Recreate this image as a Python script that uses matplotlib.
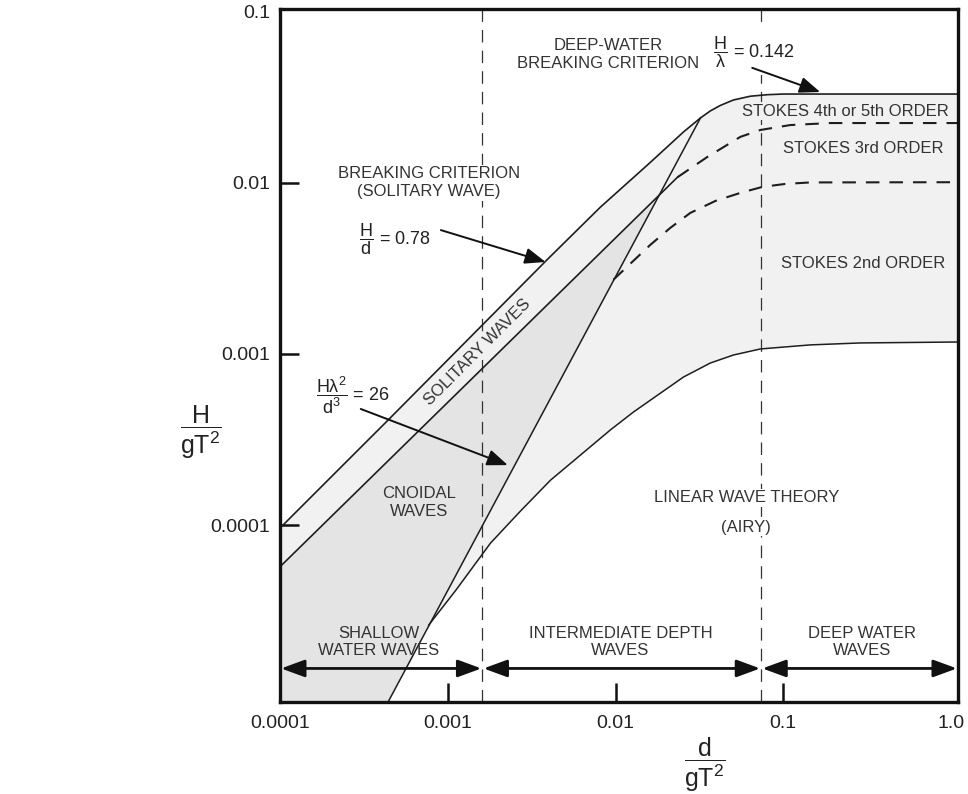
import numpy as np
import matplotlib
matplotlib.use("Agg")
import matplotlib.pyplot as plt
from matplotlib.ticker import NullLocator

plt.rcParams['font.family'] = ['Liberation Sans', 'DejaVu Sans']
plt.rcParams['mathtext.fontset'] = 'custom'
plt.rcParams['mathtext.rm'] = 'Liberation Sans'
plt.rcParams['mathtext.it'] = 'Liberation Sans:italic'
plt.rcParams['mathtext.bf'] = 'Liberation Sans:bold'

# ---------------- data ----------------
x_limits = (1e-4, 1.1)
y_limits = (9.23e-6, 0.104)

# breaking criterion (H/d = 0.78 -> H/L = 0.142)
breaking_x = [1.0e-4, 4.4e-4, 3.9e-3, 8.1e-3, 1.6e-2, 2.54e-2, 3.21e-2, 3.67e-2, 4.21e-2,
              5.04e-2, 6.36e-2, 8.03e-2, 0.1, 1.1]
breaking_y = [9.6e-5, 4.1e-4, 3.55e-3, 7.2e-3, 1.31e-2, 1.986e-2, 2.40e-2, 2.636e-2, 2.838e-2,
              3.055e-2, 3.214e-2, 3.281e-2, 3.31e-2, 3.31e-2]

# lower limit of solitary-wave band
solitary_x = [1.0e-4, 2.34e-2]
solitary_y = [5.7e-5, 1.08e-2]

# Ursell limit H L^2 / d^3 = 26
ursell_x = [4.4e-4, 3.21e-2]
ursell_y = [9.2e-6, 2.40e-2]

# linear / Stokes 2nd order limit
linear_x = [7.7e-4, 1.12e-3, 1.80e-3, 2.72e-3, 4.10e-3, 9.33e-3, 1.28e-2, 2.54e-2, 3.67e-2,
            5.04e-2, 7.3e-2, 0.145, 0.287, 1.1]
linear_y = [2.60e-5, 4.17e-5, 7.85e-5, 1.21e-4, 1.83e-4, 3.6e-4, 4.58e-4, 7.33e-4, 8.85e-4,
            9.86e-4, 1.07e-3, 1.13e-3, 1.16e-3, 1.175e-3]

# Stokes 2nd / 3rd order limit (dashed)
stokes3_x = [9.72e-3, 1.61e-2, 2.12e-2, 2.79e-2, 3.94e-2, 5.55e-2, 7.5e-2, 0.1028, 0.145, 1.1]
stokes3_y = [2.72e-3, 4.34e-3, 5.46e-3, 6.68e-3, 7.85e-3, 8.75e-3, 9.48e-3, 9.87e-3, 1.007e-2, 1.01e-2]

# Stokes 3rd / 4th order limit (dashed)
stokes4_x = [2.34e-2, 3.53e-2, 5.55e-2, 7.3e-2, 0.110, 0.19, 1.1]
stokes4_y = [1.08e-2, 1.42e-2, 1.86e-2, 2.04e-2, 2.18e-2, 2.24e-2, 2.24e-2]

shallow_limit = 0.00161
deep_limit = 0.0739

xtick_vals = [1e-4, 1e-3, 1e-2, 1e-1, 1.0]
xtick_labels = ['0.0001', '0.001', '0.01', '0.1', '1.0']
ytick_vals = [1e-4, 1e-3, 1e-2, 1e-1]
ytick_labels = ['0.0001', '0.001', '0.01', '0.1']

# ---------------- figure ----------------
W, H = 968, 794
fig = plt.figure(figsize=(W / 100, H / 100), dpi=100)
ax = fig.add_axes([280 / W, (H - 702) / H, (958 - 280) / W, (702 - 9) / H])
ax.set_xscale('log')
ax.set_yscale('log')
ax.set_xlim(*x_limits)
ax.set_ylim(*y_limits)

LIGHT = '#f1f1f1'
DARK = '#e4e4e4'
LINE = '#1e1e1e'
TXT = '#333333'

# light region: below breaking curve, above linear limit / left of Ursell
poly_x = breaking_x + linear_x[::-1] + [ursell_x[0], x_limits[0]]
poly_y = breaking_y + linear_y[::-1] + [ursell_y[0], y_limits[0]]
ax.fill(poly_x, poly_y, color=LIGHT, lw=0, zorder=1)

# cnoidal region: below solitary line, left of Ursell line (intersection in log space)
lsx, lsy = np.log10(solitary_x), np.log10(solitary_y)
lux, luy = np.log10(ursell_x), np.log10(ursell_y)
ms = (lsy[1] - lsy[0]) / (lsx[1] - lsx[0])
mu = (luy[1] - luy[0]) / (lux[1] - lux[0])
xi = (luy[0] - lsy[0] + ms * lsx[0] - mu * lux[0]) / (ms - mu)
yi = lsy[0] + ms * (xi - lsx[0])
cn_x = [x_limits[0], solitary_x[0], 10 ** xi, ursell_x[0]]
cn_y = [y_limits[0], solitary_y[0], 10 ** yi, ursell_y[0]]
ax.fill(cn_x, cn_y, color=DARK, lw=0, zorder=1.1)

# vertical depth limits
for xv in (shallow_limit, deep_limit):
    ax.axvline(xv, color='#333333', lw=0.9, dashes=(10, 6.5), zorder=2)

# curves
ax.plot(breaking_x, breaking_y, color=LINE, lw=1.2, zorder=3)
ax.plot(solitary_x, solitary_y, color=LINE, lw=1.2, zorder=3)
ax.plot(ursell_x, ursell_y, color=LINE, lw=1.1, zorder=3)
ax.plot(linear_x, linear_y, color=LINE, lw=1.1, zorder=3)
ax.plot(stokes3_x, stokes3_y, color=LINE, lw=1.5, dashes=(6.5, 4.8), zorder=3)
ax.plot(stokes4_x, stokes4_y, color=LINE, lw=1.5, dashes=(6.5, 4.8), zorder=3)

# ---------------- axes styling ----------------
for sp in ax.spines.values():
    sp.set_linewidth(2.4)
    sp.set_color('#111111')
    sp.set_zorder(6)

ax.xaxis.set_minor_locator(NullLocator())
ax.yaxis.set_minor_locator(NullLocator())
ax.set_xticks(xtick_vals[1:-1], xtick_labels[1:-1])
ax.set_xticks([xtick_vals[0], xtick_vals[-1]], [xtick_labels[0], xtick_labels[-1]], minor=True)
ax.set_yticks(ytick_vals[:-1], ytick_labels[:-1])
ax.set_yticks([ytick_vals[-1]], [ytick_labels[-1]], minor=True)
ax.tick_params(axis='both', which='major', direction='in', length=14, width=1.8,
               labelsize=14, colors='#111111', labelcolor='#222222')
ax.tick_params(axis='both', which='minor', direction='in', length=0,
               labelsize=14, labelcolor='#222222')
ax.tick_params(axis='x', which='both', pad=9)
ax.tick_params(axis='y', which='both', pad=7)

# axis labels as fractions
fig.text(201 / W, 1 - 432 / H, r'$\dfrac{\mathrm{H}}{\mathrm{gT^2}}$', fontsize=18,
         ha='center', va='center', color='#222222')
fig.text(705 / W, 1 - 765 / H, r'$\dfrac{\mathrm{d}}{\mathrm{gT^2}}$', fontsize=18,
         ha='center', va='center', color='#222222')

# ---------------- region labels ----------------
fs = 12
ax.text(7.7e-4, 1.0e-2, 'BREAKING CRITERION\n(SOLITARY WAVE)', fontsize=fs, color=TXT,
        ha='center', va='center', linespacing=1.25, zorder=5,
        bbox=dict(facecolor='white', edgecolor='none', pad=1))
ax.text(9.08e-3, 0.0561, 'DEEP-WATER\nBREAKING CRITERION', fontsize=fs, color=TXT,
        ha='center', va='center', linespacing=1.25, zorder=5)
ax.text(0.234, 0.0263, 'STOKES 4th or 5th ORDER', fontsize=fs, color=TXT,
        ha='center', va='center', zorder=5,
        bbox=dict(facecolor=LIGHT, edgecolor='none', pad=1))
ax.text(0.299, 0.0160, 'STOKES 3rd ORDER', fontsize=fs, color=TXT, ha='center', va='center', zorder=5)
ax.text(0.299, 0.0034, 'STOKES 2nd ORDER', fontsize=fs, color=TXT, ha='center', va='center', zorder=5)
ax.text(6.7e-4, 1.35e-4, 'CNOIDAL\nWAVES', fontsize=fs, color=TXT, ha='center', va='center',
        linespacing=1.25, zorder=5)
ax.text(0.0603, 1.44e-4, 'LINEAR WAVE THEORY', fontsize=fs, color=TXT, ha='center', va='center',
        zorder=5, bbox=dict(facecolor='white', edgecolor='none', pad=1))
ax.text(0.0603, 9.7e-5, '(AIRY)', fontsize=fs, color=TXT, ha='center', va='center',
        zorder=5, bbox=dict(facecolor='white', edgecolor='none', pad=1))
ax.text(1.51e-3, 1.03e-3, 'SOLITARY WAVES', fontsize=fs, color=TXT, ha='center', va='center',
        rotation=45, rotation_mode='anchor', zorder=5,
        bbox=dict(facecolor=LIGHT, edgecolor='none', pad=0.5))

ax.text(3.88e-4, 2.07e-5, 'SHALLOW\nWATER WAVES', fontsize=fs, color=TXT, ha='center',
        va='center', linespacing=1.2, zorder=5)
ax.text(0.0107, 2.07e-5, 'INTERMEDIATE DEPTH\nWAVES', fontsize=fs, color=TXT, ha='center',
        va='center', linespacing=1.2, zorder=5)
ax.text(0.295, 2.07e-5, 'DEEP WATER\nWAVES', fontsize=fs, color=TXT, ha='center',
        va='center', linespacing=1.2, zorder=5)

# fraction annotations
ax.text(2.95e-4, 4.71e-3, r'$\dfrac{\mathrm{H}}{\mathrm{d}}$ = 0.78', fontsize=13,
        color='#222222', ha='left', va='center', zorder=5)
ax.text(1.64e-4, 5.75e-4, r'$\dfrac{\mathrm{H\lambda^2}}{\mathrm{d^3}}$ = 26', fontsize=13,
        color='#222222', ha='left', va='center', zorder=5)
ax.text(0.0383, 0.0583, r'$\dfrac{\mathrm{H}}{\mathrm{\lambda}}$ = 0.142', fontsize=13,
        color='#222222', ha='left', va='center', zorder=5,
        bbox=dict(facecolor='white', edgecolor='none', pad=4))

arr = dict(arrowstyle='-|>,head_length=0.9,head_width=0.35', color='#111111', lw=1.4,
           mutation_scale=14, shrinkA=0, shrinkB=0)
ax.annotate('', xy=(3.83e-3, 3.45e-3), xytext=(9.1e-4, 5.3e-3), arrowprops=arr, zorder=5)
ax.annotate('', xy=(2.28e-3, 2.24e-4), xytext=(3.03e-4, 4.77e-4), arrowprops=arr, zorder=5)
ax.annotate('', xy=(0.166, 0.0340), xytext=(0.0653, 0.0471), arrowprops=arr, zorder=5)

# double arrows for depth classes
darr = dict(arrowstyle='<|-|>,head_length=0.9,head_width=0.33', color='#111111', lw=2.0,
            mutation_scale=16, shrinkA=0, shrinkB=0)
y_arrow = 1.45e-5
bounds = [x_limits[0], shallow_limit, deep_limit, x_limits[1]]
for a, b in zip(bounds[:-1], bounds[1:]):
    ax.annotate('', xy=(b * 0.985, y_arrow), xytext=(a * 1.015, y_arrow), arrowprops=darr, zorder=5)

fig.savefig('out.png', dpi=100)
